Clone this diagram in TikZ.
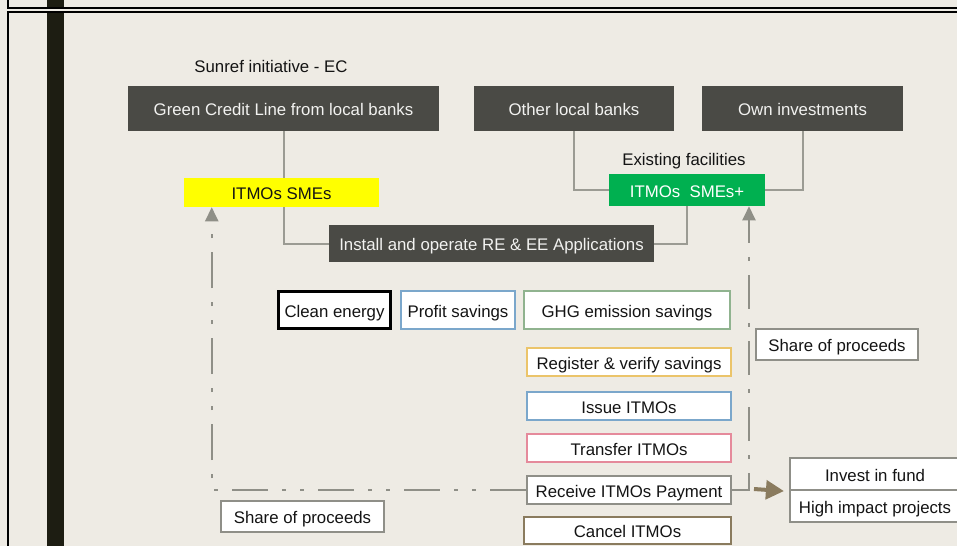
\documentclass[tikz,border=0pt]{standalone}
\usepackage{fontspec}
\setmainfont{Liberation Sans}
\usetikzlibrary{arrows.meta}
\definecolor{bgc}{HTML}{EEEBE4}
\definecolor{barc}{HTML}{1D1D12}
\definecolor{darkc}{HTML}{4A4A45}
\definecolor{lightt}{HTML}{F2F2F0}
\definecolor{connc}{HTML}{9B9B93}
\definecolor{dashc}{HTML}{8F8F87}
\definecolor{txtc}{HTML}{141414}
\definecolor{bluec}{HTML}{7BA7CB}
\definecolor{greenb}{HTML}{90B38F}
\definecolor{yellowb}{HTML}{EBC46A}
\definecolor{pinkb}{HTML}{E58A9B}
\definecolor{grayb}{HTML}{8F8F88}
\definecolor{brownb}{HTML}{8A7B5E}
\definecolor{smegreen}{HTML}{00B050}
\definecolor{smeyellow}{HTML}{FFFF00}
\begin{document}
\begin{tikzpicture}[x=0.75pt,y=-0.75pt,
  sz/.style 2 args={minimum width=#1*0.75pt, minimum height=#2*0.75pt},
  base/.style={rectangle, inner sep=0pt, align=center, font=\fontsize{12.6pt}{15pt}\selectfont, text=txtc, text height=12.5pt, text depth=2pt},
  dark/.style={base, fill=darkc, text=lightt},
  wbox/.style={base, fill=white, line width=1.6pt},
  conn/.style={draw=connc, line width=1.5pt},
  ddtwo/.style={draw=dashc, line width=1.5pt, dash pattern=on 27pt off 10.5pt on 3pt off 10.5pt on 3pt off 10.5pt},
  ddone/.style={draw=dashc, line width=1.5pt, dash pattern=on 25.5pt off 10.5pt on 3pt off 10.5pt},
  garrow/.style={-{Triangle[width=9.75pt,length=10.5pt,fill=dashc]}},
  brarrow/.style={draw=brownb, line width=3pt, -{Triangle[width=14pt,length=13.5pt,fill=brownb]}}
]
\useasboundingbox (0,0) rectangle (957,546);
\fill[bgc] (0,0) rectangle (957,546);
% dark vertical bar
\fill[barc] (47,0) rectangle (64,8);
\fill[barc] (47,12) rectangle (64,546);
% frame lines
\draw[black, line width=1.5pt] (7.5,-5) -- (7.5,8) -- (970,8);
\draw[black, line width=1.5pt] (970,12) -- (7.5,12) -- (7.5,560);

% texts
\node[base] (sun) at (271,65) {Sunref initiative - EC};
\node[base] (ex) at (684,158) {Existing facilities};

% dark boxes
\node[dark, sz={311}{45}] (gcl) at (283.5,108.5) {Green Credit Line from local banks};
\node[dark, sz={200}{45}] (olb) at (574,108.5) {Other local banks};
\node[dark, sz={201}{45}] (own) at (802.5,108.5) {Own investments};
\node[dark, sz={325}{37}] (ins) at (491.5,243.5) {Install and operate RE \& EE Applications};

% SME boxes
\node[base, fill=smeyellow, sz={195}{29}] (yel) at (281.5,192.5) {ITMOs SMEs};
\node[base, fill=smegreen, text=white, sz={156}{32}] (grn) at (687,190) {ITMOs\ \ SMEs+};

% white boxes
\node[wbox, draw=black, line width=2.25pt, sz={112}{37}] (cln) at (334.5,310) {Clean energy};
\node[wbox, draw=bluec, sz={114}{38}] (prf) at (458,310) {Profit savings};
\node[wbox, draw=greenb, sz={206}{38}] (ghg) at (627,310) {GHG emission savings};
\node[wbox, draw=yellowb, sz={204}{28}] (reg) at (629,362) {Register \& verify savings};
\node[wbox, draw=bluec, sz={204}{28}] (iss) at (629,406) {Issue ITMOs};
\node[wbox, draw=pinkb, sz={204}{28}] (trf) at (629,448) {Transfer ITMOs};
\node[wbox, draw=grayb, sz={204}{28}] (rcv) at (629,490) {Receive ITMOs Payment};
\node[wbox, draw=brownb, sz={207}{27}] (cnc) at (627.5,530.5) {Cancel ITMOs};
\node[wbox, draw=grayb, sz={163}{31}] (shl) at (302.5,516.5) {Share of proceeds};
\node[wbox, draw=grayb, sz={162}{31}] (shr) at (837,344.5) {Share of proceeds};
\node[wbox, draw=grayb, sz={170}{32}] (inv) at (875,474) {Invest in fund};
\node[wbox, draw=grayb, sz={170}{32}] (hip) at (875,506) {High impact projects};

% solid connectors
\draw[conn] (gcl.south) -- (gcl.south |- yel.north);
\draw[conn] (gcl.south |- yel.south) |- (ins.west);
\draw[conn] (ins.east) -| (grn.south);
\draw[conn] (olb.south) |- (grn.west);
\draw[conn] (own.south) |- (grn.east);

% dash-dot connectors
\draw[ddtwo, garrow] (rcv.west) -| ([xshift=21pt]yel.south west);
\draw[ddone, garrow] (rcv.east) -| ([xshift=46.5pt]grn.south);

% brown arrow
\coordinate (bs) at (754,489);
\draw[brarrow] (bs) -- ([xshift=-3.75pt]inv.south west);
\end{tikzpicture}
\end{document}
